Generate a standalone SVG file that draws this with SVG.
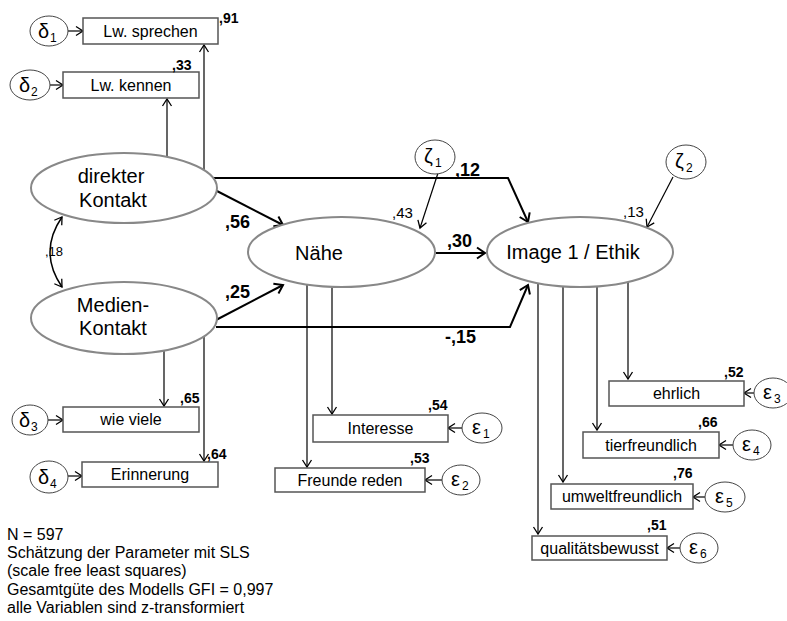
<svg xmlns="http://www.w3.org/2000/svg" width="787" height="621" viewBox="0 0 787 621">
<style>
text{font-family:"Liberation Sans",Arial,sans-serif;fill:#000}
.lat{fill:#fff;stroke:#888;stroke-width:2}
.err{fill:#fff;stroke:#444;stroke-width:1}
.box{fill:#fff;stroke:#555;stroke-width:1.5}
.bt{font-size:16px;text-anchor:middle}
.lt{font-size:20px;text-anchor:middle}
.gk{font-size:20px}
.sub{font-size:12px}
.c{font-size:14px;font-weight:bold}
.cb{font-size:18px;font-weight:bold}
.cn{font-size:15px}
.thin{fill:none;stroke:#000;stroke-width:1.2;marker-end:url(#a)}
.thick{fill:none;stroke:#000;stroke-width:2;marker-end:url(#b)}
.ft{font-size:16px}
</style>
<defs>
<marker id="a" markerUnits="userSpaceOnUse" markerWidth="12" markerHeight="12" viewBox="0 0 12 12" refX="10" refY="6" orient="auto-start-reverse">
<path d="M3,1.5 L10,6 L3,10.5" fill="none" stroke="#000" stroke-width="1.3"/>
</marker>
<marker id="b" markerUnits="userSpaceOnUse" markerWidth="14" markerHeight="14" viewBox="0 0 14 14" refX="12" refY="7" orient="auto-start-reverse">
<path d="M4,1.5 L12,7 L4,12.5" fill="none" stroke="#000" stroke-width="2"/>
</marker>
</defs>

<g id="connectors">
<line class="thin" x1="167" y1="157" x2="167" y2="99"/>
<line class="thin" x1="204" y1="170" x2="204" y2="45"/>
<line class="thin" x1="164" y1="349" x2="164" y2="406"/>
<line class="thin" x1="204" y1="335" x2="204" y2="461"/>
<path d="M62,217 Q38,252 62,287" fill="none" stroke="#000" stroke-width="1.5" marker-start="url(#a)" marker-end="url(#a)"/>
<line class="thick" x1="215" y1="190" x2="283" y2="225"/>
<line class="thick" x1="216" y1="320" x2="283" y2="285"/>
<path class="thick" d="M213,178 L508,178 L528,222"/>
<path class="thick" d="M216,327 L510,327 L528,285"/>
<line class="thick" x1="436" y1="253" x2="485" y2="253"/>
<line class="thin" x1="438" y1="173" x2="420" y2="228"/>
<line class="thin" x1="673" y1="177" x2="647" y2="227"/>
<line class="thin" x1="307" y1="285" x2="307" y2="467"/>
<line class="thin" x1="332" y1="287" x2="332" y2="414"/>
<line class="thin" x1="538" y1="283" x2="538" y2="534"/>
<line class="thin" x1="563" y1="286" x2="563" y2="482"/>
<line class="thin" x1="597" y1="286" x2="597" y2="430"/>
<line class="thin" x1="628" y1="282" x2="628" y2="379"/>
<line class="thin" x1="68" y1="31" x2="83" y2="31"/>
<line class="thin" x1="50" y1="85" x2="63" y2="85"/>
<line class="thin" x1="48" y1="420" x2="63" y2="420"/>
<line class="thin" x1="68" y1="476" x2="82" y2="476"/>
<line class="thin" x1="463" y1="428" x2="448" y2="428"/>
<line class="thin" x1="442" y1="480" x2="425" y2="480"/>
<line class="thin" x1="754" y1="393" x2="744" y2="393"/>
<line class="thin" x1="733" y1="445" x2="719" y2="445"/>
<line class="thin" x1="705" y1="497" x2="693" y2="497"/>
<line class="thin" x1="680" y1="548" x2="667" y2="548"/>
</g>

<g id="direkter"><ellipse class="lat" cx="124" cy="188" rx="93" ry="35"/><text class="lt" x="111" y="183">direkter</text><text class="lt" x="113" y="207">Kontakt</text></g>
<g id="medien"><ellipse class="lat" cx="124" cy="318" rx="93" ry="36"/><text class="lt" x="113" y="312">Medien-</text><text class="lt" x="113" y="335">Kontakt</text></g>
<g id="naehe"><ellipse class="lat" cx="341.5" cy="252" rx="93.5" ry="35"/><text class="lt" x="319" y="260">Nähe</text></g>
<g id="image"><ellipse class="lat" cx="580" cy="252" rx="93" ry="35"/><text class="lt" x="573" y="259">Image 1 / Ethik</text></g>

<g id="lw-sprechen"><rect class="box" x="83" y="18" width="135" height="26"/><text class="bt" x="150.5" y="37">Lw. sprechen</text></g>
<g id="lw-kennen"><rect class="box" x="63" y="72" width="136" height="26"/><text class="bt" x="131" y="91">Lw. kennen</text></g>
<g id="wie-viele"><rect class="box" x="63" y="407" width="136" height="25"/><text class="bt" x="131" y="425">wie viele</text></g>
<g id="erinnerung"><rect class="box" x="82" y="462" width="136" height="25"/><text class="bt" x="150" y="480">Erinnerung</text></g>
<g id="interesse"><rect class="box" x="313" y="415" width="135" height="27"/><text class="bt" x="380.5" y="434">Interesse</text></g>
<g id="freunde"><rect class="box" x="275" y="468" width="150" height="24"/><text class="bt" x="350" y="486">Freunde reden</text></g>
<g id="ehrlich"><rect class="box" x="609" y="381" width="135" height="25"/><text class="bt" x="676.5" y="399">ehrlich</text></g>
<g id="tierfreundlich"><rect class="box" x="583" y="432" width="136" height="26"/><text class="bt" x="651" y="451">tierfreundlich</text></g>
<g id="umweltfreundlich"><rect class="box" x="551" y="484" width="142" height="25"/><text class="bt" x="622" y="502">umweltfreundlich</text></g>
<g id="qualitaet"><rect class="box" x="532" y="536" width="135" height="24"/><text class="bt" x="599.5" y="554">qualitätsbewusst</text></g>

<g id="d1"><ellipse class="err" cx="49" cy="31" rx="19" ry="15"/><text class="gk" x="38" y="38">δ</text><text class="sub" x="50" y="42">1</text></g>
<g id="d2"><ellipse class="err" cx="30" cy="85" rx="20" ry="15"/><text class="gk" x="19" y="92">δ</text><text class="sub" x="31" y="96">2</text></g>
<g id="d3"><ellipse class="err" cx="30" cy="420" rx="18" ry="15"/><text class="gk" x="19" y="427">δ</text><text class="sub" x="31" y="431">3</text></g>
<g id="d4"><ellipse class="err" cx="49" cy="477" rx="19" ry="16"/><text class="gk" x="38" y="484">δ</text><text class="sub" x="50" y="488">4</text></g>
<g id="z1"><ellipse class="err" cx="435" cy="157" rx="20" ry="17"/><text class="gk" x="424" y="163">ζ</text><text class="sub" x="435" y="167">1</text></g>
<g id="z2"><ellipse class="err" cx="686" cy="162" rx="20" ry="17"/><text class="gk" x="675" y="168">ζ</text><text class="sub" x="686" y="172">2</text></g>
<g id="e1"><ellipse class="err" cx="482" cy="428" rx="20" ry="15"/><text class="gk" x="472" y="434">ε</text><text class="sub" x="483" y="438">1</text></g>
<g id="e2"><ellipse class="err" cx="461" cy="480" rx="19" ry="15"/><text class="gk" x="451" y="486">ε</text><text class="sub" x="462" y="490">2</text></g>
<g id="e3"><ellipse class="err" cx="773" cy="393" rx="19" ry="15"/><text class="gk" x="763" y="399">ε</text><text class="sub" x="774" y="403">3</text></g>
<g id="e4"><ellipse class="err" cx="752" cy="445" rx="19" ry="15"/><text class="gk" x="742" y="451">ε</text><text class="sub" x="753" y="455">4</text></g>
<g id="e5"><ellipse class="err" cx="725" cy="497" rx="20" ry="15"/><text class="gk" x="715" y="503">ε</text><text class="sub" x="726" y="507">5</text></g>
<g id="e6"><ellipse class="err" cx="699" cy="548" rx="19" ry="15"/><text class="gk" x="689" y="554">ε</text><text class="sub" x="700" y="558">6</text></g>

<g id="coefficients">
<text class="c" x="219" y="23">,91</text>
<text class="c" x="172" y="70">,33</text>
<text class="c" x="180" y="403">,65</text>
<text class="c" x="207" y="459">,64</text>
<text class="c" x="428" y="410">,54</text>
<text class="c" x="410" y="463">,53</text>
<text class="c" x="724" y="377">,52</text>
<text class="c" x="698" y="427">,66</text>
<text class="c" x="673" y="478">,76</text>
<text class="c" x="647" y="530">,51</text>
<text class="cn" x="392" y="218">,43</text>
<text class="cn" x="623" y="217">,13</text>
<text class="cb" x="225" y="228">,56</text>
<text class="cb" x="225" y="298">,25</text>
<text class="cb" x="447" y="247">,30</text>
<text class="cb" x="455" y="176">,12</text>
<text class="cb" x="445" y="343">-,15</text>
<text font-size="13" x="45" y="256">,18</text>
</g>

<g id="notes">
<text class="ft" x="7" y="540">N = 597</text>
<text class="ft" x="7" y="558">Schätzung der Parameter mit SLS</text>
<text class="ft" x="7" y="576">(scale free least squares)</text>
<text class="ft" x="7" y="595">Gesamtgüte des Modells GFI = 0,997</text>
<text class="ft" x="7" y="613">alle Variablen sind z-transformiert</text>
</g>
</svg>
